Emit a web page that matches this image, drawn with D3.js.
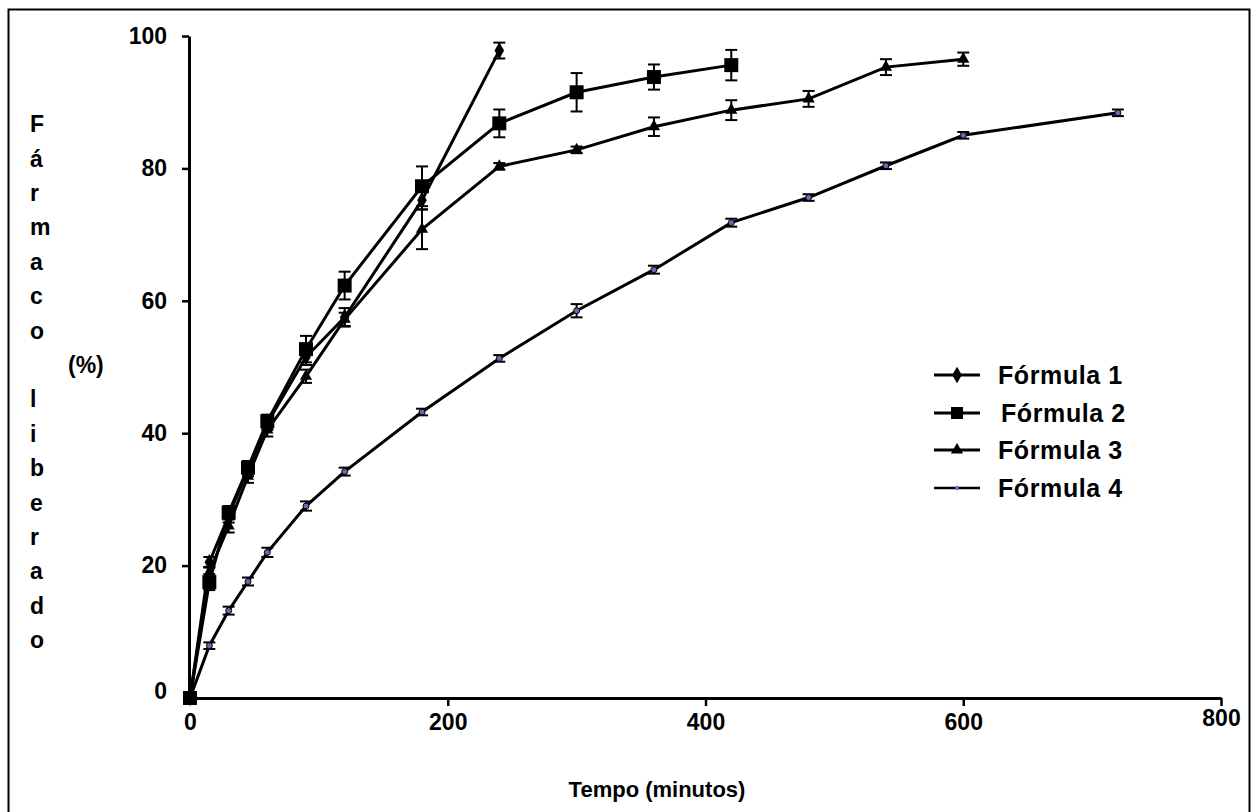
<!DOCTYPE html>
<html><head><meta charset="utf-8">
<script src="https://cdn.jsdelivr.net/npm/d3@7"></script>
<style>body{margin:0;background:#fff}svg{display:block}text{font-family:"Liberation Sans",Arial,sans-serif;font-weight:bold;fill:#000}</style>
</head><body><svg id="c" width="1258" height="812"></svg>
<script>
const xTicks = [0, 200, 400, 600, 800];
const yTicks = [0, 20, 40, 60, 80, 100];
const seriesNames = ["Fórmula 1", "Fórmula 2", "Fórmula 3", "Fórmula 4"];
const t1 = [0, 15, 30, 45, 60, 90, 120, 180, 240];
const f1 = [0, 20.5, 27.5, 34.5, 41.5, 51.5, 57.5, 75.2, 97.8];
const e1 = [0, 0.8, 1, 1, 1, 1.2, 1.4, 1.4, 1.2];
const t2 = [0, 15, 30, 45, 60, 90, 120, 180, 240, 300, 360, 420];
const f2 = [0, 17.5, 28, 34.8, 41.8, 52.7, 62.3, 77.3, 86.8, 91.5, 93.8, 95.6];
const e2 = [0, 1.2, 1, 1, 1, 2, 2.1, 3, 2.1, 2.9, 1.9, 2.3];
const t3 = [0, 15, 30, 45, 60, 90, 120, 180, 240, 300, 360, 420, 480, 540, 600];
const f3 = [0, 19, 26, 33.5, 40.5, 48.6, 57.2, 70.8, 80.3, 82.8, 86.3, 88.8, 90.5, 95.3, 96.5];
const e3 = [0, 0.8, 1, 1, 1, 1, 1, 3, 0.5, 0.5, 1.4, 1.5, 1.2, 1.2, 1];
const t4 = [0, 15, 30, 45, 60, 90, 120, 180, 240, 300, 360, 420, 480, 540, 600, 720];
const f4 = [0, 7.9, 13.2, 17.6, 22, 29, 34.2, 43.2, 51.3, 58.5, 64.7, 71.8, 75.6, 80.4, 85, 88.4];
const e4 = [0, 0.5, 0.6, 0.6, 0.7, 0.7, 0.6, 0.5, 0.5, 1, 0.6, 0.6, 0.5, 0.5, 0.5, 0.5];

const svg = d3.select("#c");
svg.append("rect").attr("x", 8.5).attr("y", 9.5).attr("width", 1241).attr("height", 812)
  .attr("fill", "none").attr("stroke", "#000").attr("stroke-width", 2);

const x = d3.scaleLinear().domain([0, 800]).range([190, 1221]);
const y = d3.scaleLinear().domain([0, 100]).range([698, 36]);

// axes
const gx = svg.append("g").attr("transform", "translate(0,698)")
  .call(d3.axisBottom(x).tickValues(xTicks).tickSize(8).tickPadding(8).tickSizeOuter(0));
const gy = svg.append("g").attr("transform", "translate(189,0)")
  .call(d3.axisLeft(y).tickValues(yTicks).tickSize(7).tickPadding(15).tickSizeOuter(0));
[gx, gy].forEach(g => {
  g.select(".domain").attr("stroke-width", 3);
  g.selectAll(".tick line").attr("stroke-width", 2.5);
  g.selectAll(".tick text").style("font-size", "23px").style("font-weight", "bold").attr("fill", "#000")
    .style("font-family", '"Liberation Sans",Arial,sans-serif');
});
gx.selectAll(".tick").filter(d => d === 0).select("line").remove();
gy.selectAll(".tick").filter(d => d === 0).select("line").remove();
gy.selectAll(".tick").filter(d => d === 0).select("text").attr("dy", "0.0em");
gx.selectAll(".tick").filter(d => d === 800).select("text").attr("dy", "0.5em");

const series = [
  {t: t1, v: f1, e: e1, m: "diamond"},
  {t: t2, v: f2, e: e2, m: "square"},
  {t: t3, v: f3, e: e3, m: "triangle"},
  {t: t4, v: f4, e: e4, m: "dot"}
];
const line = d3.line().x(d => x(d[0])).y(d => y(d[1]));

function marker(g, type) {
  if (type === "diamond") g.append("path").attr("d", d3.symbol(d3.symbolDiamond, 80)()).attr("fill", "#000");
  else if (type === "square") g.append("rect").attr("x", -7).attr("y", -7).attr("width", 14).attr("height", 14).attr("fill", "#000");
  else if (type === "triangle") g.append("path").attr("d", d3.symbol(d3.symbolTriangle, 65)()).attr("fill", "#000");
  else g.append("circle").attr("r", 3).attr("fill", "#7a5fae").attr("stroke", "#000").attr("stroke-width", 1);
}

series.slice().reverse().forEach(s => {
  const pts = s.t.map((t, i) => [t, s.v[i], s.e[i]]);
  svg.append("path").datum(pts).attr("d", line).attr("fill", "none").attr("stroke", "#000").attr("stroke-width", 3);
  const eb = svg.append("g").attr("stroke", "#000").attr("stroke-width", 2);
  pts.filter(p => p[2] > 0).forEach(p => {
    const cx = x(p[0]), top = y(p[1] + p[2]), bot = y(p[1] - p[2]);
    eb.append("line").attr("x1", cx).attr("x2", cx).attr("y1", top).attr("y2", bot);
    eb.append("line").attr("x1", cx - 6).attr("x2", cx + 6).attr("y1", top).attr("y2", top);
    eb.append("line").attr("x1", cx - 6).attr("x2", cx + 6).attr("y1", bot).attr("y2", bot);
  });
  pts.forEach(p => {
    const g = svg.append("g").attr("transform", `translate(${x(p[0])},${y(p[1])})`);
    marker(g, s.m);
  });
});

// legend
const lg = svg.append("g");
const legY = [375, 413, 450, 488];
const legTextX = [998, 1001, 998, 998];
series.forEach((s, i) => {
  lg.append("line").attr("x1", 934).attr("x2", 980).attr("y1", legY[i]).attr("y2", legY[i])
    .attr("stroke", "#000").attr("stroke-width", i === 3 ? 2.5 : 3);
  const g = lg.append("g").attr("transform", `translate(957,${legY[i]})`);
  if (s.m === "dot") g.append("circle").attr("r", 2).attr("fill", "#7a5fae");
  else if (s.m === "square") g.append("rect").attr("x", -6).attr("y", -6).attr("width", 12).attr("height", 12).attr("fill", "#000");
  else marker(g, s.m);
  lg.append("text").attr("x", legTextX[i]).attr("y", legY[i]).attr("dy", "0.36em")
    .style("font-size", "25px").style("letter-spacing", "0.6px").text(seriesNames[i]);
});

// axis titles
svg.append("text").attr("x", 657).attr("y", 789).attr("dy", "0.36em").attr("text-anchor", "middle")
  .style("font-size", "22px").text("Tempo (minutos)");
const yTitleLetters = ["F","á","r","m","a","c","o","","l","i","b","e","r","a","d","o"];
yTitleLetters.forEach((ch, i) => {
  if (!ch) return;
  svg.append("text").attr("x", 30).attr("y", 124 + i * 34.4).attr("dy", "0.36em")
    .style("font-size", "23px").text(ch);
});
svg.append("text").attr("x", 68).attr("y", 124 + 7 * 34.4).attr("dy", "0.36em")
  .style("font-size", "23px").text("(%)");
</script></body></html>
